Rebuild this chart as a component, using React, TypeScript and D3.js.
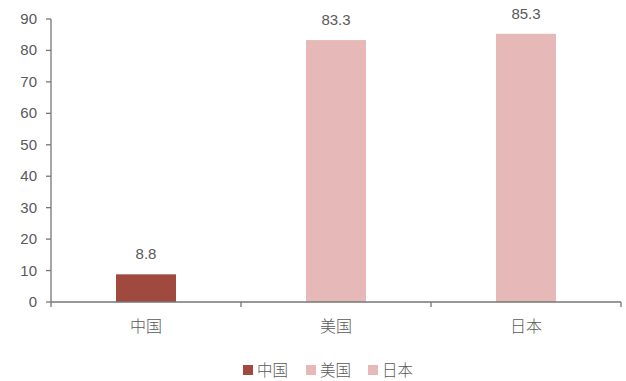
import React from "react";
import * as d3 from "d3";

const categories = ["中国", "美国", "日本"];
const values = [8.8, 83.3, 85.3];
const colors = ["#A0493F", "#E6B8B7", "#E6B8B7"];
const yTicks = [0, 10, 20, 30, 40, 50, 60, 70, 80, 90];

const W = 626, H = 381;
const left = 51, right = 621, top = 19, bottom = 302;
const font = "'Liberation Sans', 'Noto Sans CJK SC', sans-serif";
const cjkFont = "'Noto Sans CJK SC', sans-serif";
const textColor = "#595959";
const axisColor = "#767676";

export default function App() {
  const x = d3.scaleBand<string>().domain(categories).range([left, right]).paddingInner(0).paddingOuter(0);
  const y = d3.scaleLinear().domain([0, 90]).range([bottom, top]);
  const barW = 60;
  const legendX = [243, 306, 368];
  return (
    <svg width={W} height={H} style={{ position: "absolute", left: 0, top: 0 }}>
      <rect width={W} height={H} fill="#fff" />
      {categories.map((c, i) => {
        const cx = x(c)! + x.bandwidth() / 2;
        return (
          <g key={c}>
            <rect x={cx - barW / 2} y={y(values[i])} width={barW} height={bottom - y(values[i])} fill={colors[i]} />
            <text x={cx} y={y(values[i]) - 15} textAnchor="middle" fontFamily={font} fontSize={15} fill={textColor}>
              {values[i].toFixed(1)}
            </text>
            <text x={cx} y={bottom + 30} textAnchor="middle" fontFamily={cjkFont} fontSize={16} fontWeight={300} fill={textColor}>
              {c}
            </text>
          </g>
        );
      })}
      <line x1={left} x2={left} y1={top} y2={bottom} stroke={axisColor} strokeWidth={1.3} />
      {yTicks.map((t) => (
        <g key={t}>
          <line x1={left - 5} x2={left} y1={y(t)} y2={y(t)} stroke={axisColor} strokeWidth={1.3} />
          <text x={37} y={y(t) + 5} textAnchor="end" fontFamily={font} fontSize={15} fill={textColor}>
            {t}
          </text>
        </g>
      ))}
      <line x1={left} x2={right} y1={bottom} y2={bottom} stroke={axisColor} strokeWidth={1.5} />
      {[...categories.map((c) => x(c)!), right].map((px, i) => (
        <line key={i} x1={px} x2={px} y1={bottom} y2={bottom + 5} stroke={axisColor} strokeWidth={1.3} />
      ))}
      {categories.map((c, i) => (
        <g key={"lg" + c}>
          <rect x={legendX[i]} y={365} width={10} height={10} fill={colors[i]} />
          <text x={legendX[i] + 14} y={376} fontFamily={cjkFont} fontSize={15.5} fontWeight={300} fill={textColor}>
            {c}
          </text>
        </g>
      ))}
    </svg>
  );
}
